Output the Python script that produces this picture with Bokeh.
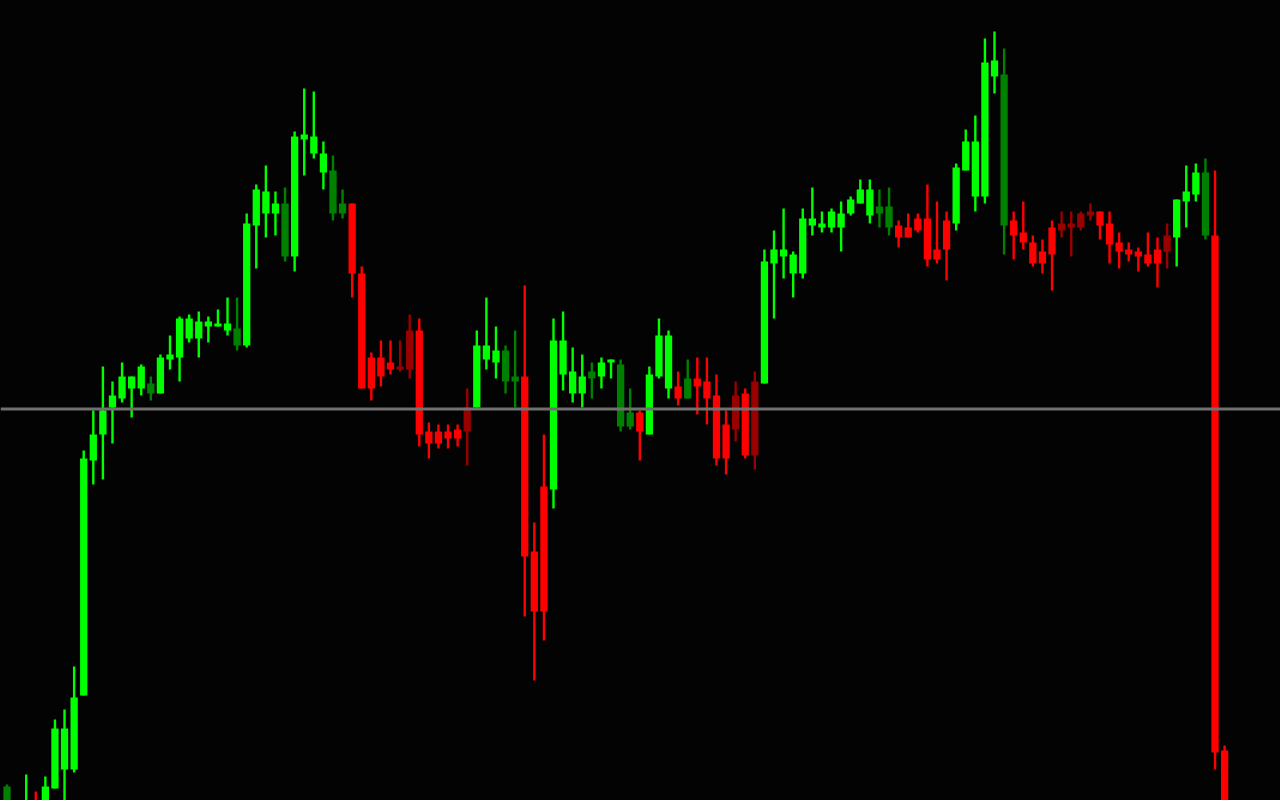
from bokeh.plotting import figure
from bokeh.models import ColumnDataSource, Range1d, Span
from bokeh.embed import file_html
from bokeh.resources import INLINE

# ---- data (price units) ----
opens = [214, 180, 185, 198, 196, 212, 231, 231, 305, 540,
         566, 593, 602, 612, 612, 617, 607, 641, 643, 662,
         662, 674, 674, 670, 672, 655, 775, 787, 787, 797,
         744, 861, 847, 828, 830, 797, 797, 727, 643, 643,
         638, 631, 631, 670, 569, 569, 569, 571, 569, 593,
         641, 638, 650, 624, 624, 449, 514, 511, 626, 607,
         607, 629, 624, 638, 636, 588, 588, 566, 624, 612,
         614, 622, 622, 619, 605, 576, 571, 607, 545, 617,
         737, 744, 727, 727, 775, 773, 773, 773, 787, 797,
         785, 794, 794, 775, 773, 782, 782, 751, 780, 777,
         830, 804, 804, 924, 926, 780, 768, 758, 749, 773,
         770, 773, 773, 785, 789, 777, 758, 751, 749, 746,
         751, 749, 763, 799, 806, 828, 765, 250]

closes = [195, 192, 198, 188, 214, 272, 272, 303, 542, 566,
          590, 605, 624, 624, 634, 607, 643, 646, 682, 682,
          679, 679, 677, 677, 655, 777, 811, 809, 797, 744,
          864, 866, 864, 847, 787, 787, 727, 612, 612, 624,
          631, 634, 670, 566, 557, 557, 562, 562, 593, 655,
          655, 650, 619, 619, 444, 389, 389, 660, 660, 629,
          624, 622, 638, 641, 574, 574, 569, 626, 665, 665,
          602, 602, 614, 602, 542, 542, 605, 545, 619, 739,
          751, 751, 746, 782, 782, 777, 789, 787, 801, 811,
          811, 787, 773, 763, 763, 770, 741, 741, 751, 833,
          859, 859, 938, 940, 775, 765, 758, 737, 737, 746,
          777, 777, 787, 789, 775, 756, 749, 746, 744, 737,
          737, 765, 801, 809, 828, 765, 248, 190]

highs = [216, 196, 226, 209, 224, 281, 291, 334, 550, 590,
         634, 619, 638, 624, 636, 624, 646, 665, 684, 686,
         689, 684, 691, 703, 703, 787, 816, 835, 809, 813,
         869, 912, 909, 859, 845, 811, 797, 734, 648, 660,
         660, 660, 686, 682, 578, 576, 576, 576, 612, 670,
         703, 674, 655, 670, 715, 478, 566, 682, 689, 653,
         646, 638, 643, 641, 641, 612, 590, 634, 682, 670,
         629, 641, 643, 643, 626, 590, 619, 612, 629, 751,
         770, 792, 749, 792, 813, 789, 792, 799, 804, 821,
         821, 811, 813, 780, 787, 787, 816, 799, 789, 837,
         871, 885, 962, 969, 952, 789, 799, 765, 761, 780,
         789, 789, 789, 797, 789, 789, 768, 758, 753, 768,
         763, 777, 801, 835, 837, 842, 830, 255]

lows = [190, 176, 180, 184, 190, 212, 195, 228, 305, 516,
        521, 557, 598, 583, 605, 600, 607, 631, 619, 658,
        643, 658, 674, 665, 650, 653, 732, 763, 765, 739,
        729, 825, 842, 811, 780, 782, 703, 612, 600, 614,
        626, 629, 622, 554, 542, 552, 552, 554, 535, 593,
        631, 622, 607, 593, 384, 320, 360, 492, 610, 598,
        593, 602, 612, 622, 569, 571, 540, 566, 622, 602,
        595, 602, 586, 576, 535, 526, 559, 542, 531, 617,
        682, 722, 703, 722, 765, 768, 768, 749, 785, 797,
        777, 773, 765, 753, 763, 768, 734, 737, 720, 770,
        830, 789, 797, 907, 746, 741, 751, 734, 727, 710,
        763, 744, 770, 780, 761, 737, 732, 739, 729, 734,
        713, 732, 734, 773, 799, 761, 231, 180]

trend = ["U", "U", "U", "D", "U", "U", "U", "U", "U", "U",
         "U", "U", "U", "U", "U", "U", "U", "U", "U", "U",
         "U", "U", "U", "U", "U", "U", "U", "U", "U", "U",
         "U", "U", "U", "U", "U", "U", "D", "D", "D", "D",
         "D", "D", "D", "D", "D", "D", "D", "D", "D", "U",
         "U", "U", "U", "U", "D", "D", "D", "U", "U", "U",
         "U", "U", "U", "U", "U", "U", "D", "U", "U", "U",
         "D", "U", "D", "D", "D", "D", "D", "D", "D", "U",
         "U", "U", "U", "U", "U", "U", "U", "U", "U", "U",
         "U", "U", "U", "D", "D", "D", "D", "D", "D", "U",
         "U", "U", "U", "U", "U", "D", "D", "D", "D", "D",
         "D", "D", "D", "D", "D", "D", "D", "D", "D", "D",
         "D", "D", "U", "U", "U", "U", "D", "D"]

level = 591.5  # horizontal reference line

# ---- styling ----
BG = "#030303"
UP_BULL = "#00FF00"
UP_BEAR = "#008000"
DN_BEAR = "#FF0000"
DN_BULL = "#990000"

idx = list(range(len(opens)))
colors = []
for o, c, t in zip(opens, closes, trend):
    if t == "U":
        colors.append(UP_BULL if c >= o else UP_BEAR)
    else:
        colors.append(DN_BEAR if c <= o else DN_BULL)

src = ColumnDataSource(dict(
    x=idx,
    top=[max(o, c) for o, c in zip(opens, closes)],
    bottom=[min(o, c) for o, c in zip(opens, closes)],
    high=highs, low=lows, color=colors,
))

p = figure(width=1280, height=800, output_backend="svg", toolbar_location=None,
           x_axis_location=None, y_axis_location=None,
           x_range=Range1d(-0.68, 132.83), y_range=Range1d(200, 1000),
           min_border=0, background_fill_color=BG, border_fill_color=BG,
           outline_line_color=None)
p.xgrid.visible = False
p.ygrid.visible = False

p.segment(x0="x", y0="low", x1="x", y1="high", source=src,
          line_color="color", line_width=2.4)
p.vbar(x="x", top="top", bottom="bottom", width=0.76, source=src,
       fill_color="color", line_color=None)

p.add_layout(Span(location=level, dimension="width",
                  line_color="#707070", line_width=3))

html = file_html(p, INLINE)
html = html.replace("<head>", "<head><style>html,body{margin:0;padding:0;background:#030303;overflow:hidden}</style>", 1)
open("out.html", "w").write(html)
